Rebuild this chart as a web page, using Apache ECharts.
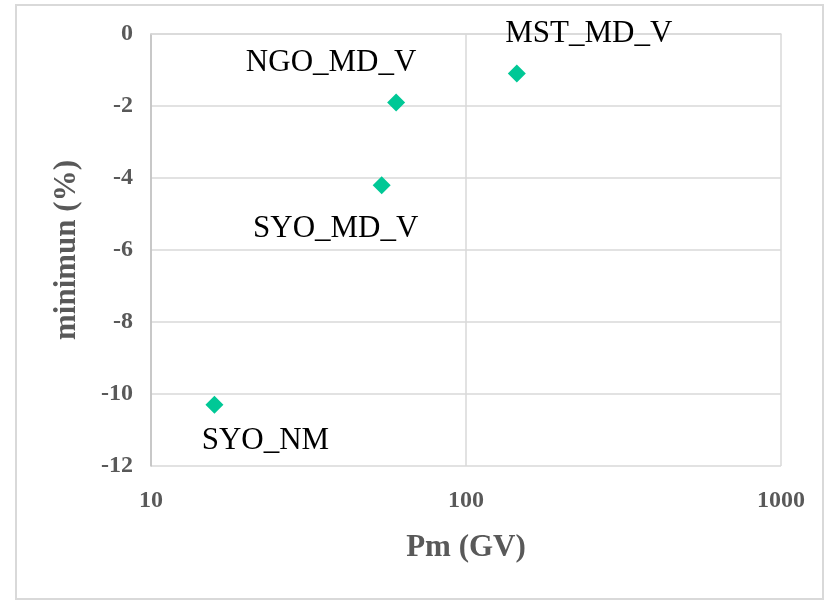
<!DOCTYPE html>
<html>
<head>
<meta charset="utf-8">
<script src="https://cdn.jsdelivr.net/npm/echarts@6/dist/echarts.min.js"></script>
<style>
html,body{margin:0;padding:0;background:#fff;}
#frame{position:absolute;left:15px;top:4px;width:805px;height:592px;border:2px solid #d9d9d9;box-sizing:content-box;}
#chart{position:absolute;left:0;top:0;width:833px;height:602px;}
</style>
</head>
<body>
<div id="frame"></div>
<div id="chart"></div>
<script>
// ---- data ----
var stations = ['SYO_NM', 'SYO_MD_V', 'NGO_MD_V', 'MST_MD_V'];
var pm = [15.9, 54, 60, 145];
var minimum = [-10.3, -4.2, -1.9, -1.1];
var yTicks = [0, -2, -4, -6, -8, -10, -12];
var xTicks = [10, 100, 1000];

// ---- label layout (not data) ----
var labelOffsets = {
  'SYO_NM': [51, 36],
  'SYO_MD_V': [-46, 44],
  'NGO_MD_V': [-65, -40],
  'MST_MD_V': [72, -40]
};

var points = stations.map(function (name, i) {
  return {
    name: name,
    value: [pm[i], minimum[i]],
    label: { offset: labelOffsets[name] }
  };
});

var serif = '"Liberation Serif", "Times New Roman", serif';
var tickFont = { fontFamily: serif, fontWeight: 'bold', fontSize: 24, color: '#595959' };

var chart = echarts.init(document.getElementById('chart'), null, { renderer: 'canvas' });
chart.setOption({
  animation: false,
  backgroundColor: 'transparent',
  grid: { left: 151, right: 52, top: 34, bottom: 136, containLabel: false },
  xAxis: {
    type: 'log',
    logBase: 10,
    min: xTicks[0],
    max: xTicks[xTicks.length - 1],
    name: 'Pm (GV)',
    nameLocation: 'middle',
    nameGap: 66,
    nameTextStyle: { fontFamily: serif, fontWeight: 'bold', fontSize: 31, color: '#595959' },
    axisLine: { show: true, lineStyle: { color: '#d9d9d9', width: 1.5 } },
    axisTick: { show: false },
    minorTick: { show: false },
    splitLine: { show: true, lineStyle: { color: '#d9d9d9', width: 1.5 } },
    axisLabel: Object.assign({ margin: 23, formatter: function (v) { return String(Math.round(v)); } }, tickFont)
  },
  yAxis: {
    type: 'value',
    min: yTicks[yTicks.length - 1],
    max: yTicks[0],
    interval: 2,
    name: 'minimun (%)',
    nameLocation: 'middle',
    nameGap: 69,
    nameRotate: 90,
    nameTextStyle: { fontFamily: serif, fontWeight: 'bold', fontSize: 31, color: '#595959' },
    axisLine: { show: true, lineStyle: { color: '#bfbfbf', width: 1.5 } },
    axisTick: { show: false },
    splitLine: { show: true, lineStyle: { color: '#d9d9d9', width: 1.5 } },
    axisLabel: Object.assign({ margin: 18 }, tickFont)
  },
  series: [{
    type: 'scatter',
    symbol: 'diamond',
    symbolSize: [18, 18],
    itemStyle: { color: '#00c896', opacity: 1 },
    data: points,
    label: {
      show: true,
      position: 'inside',
      formatter: function (p) { return p.name; },
      fontFamily: serif,
      fontSize: 31,
      color: '#000000'
    },
    emphasis: { disabled: true }
  }]
});
</script>
</body>
</html>
